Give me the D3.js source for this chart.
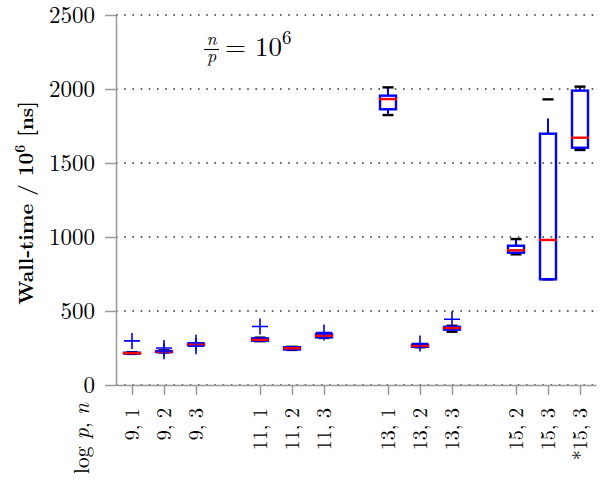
<!DOCTYPE html>
<html><head><meta charset="utf-8">
<script src="https://cdn.jsdelivr.net/npm/d3@7"></script>
<style>body{margin:0;background:#fff} svg{display:block} text{font-family:"Latin Modern Roman","Liberation Serif",serif}</style>
</head><body><svg id="c" width="603" height="486"></svg>
<script>
const categories = ["9, 1","9, 2","9, 3","11, 1","11, 2","11, 3","13, 1","13, 2","13, 3","15, 2","15, 3","*15, 3"];
const positions = [1,2,3,5,6,7,9,10,11,13,14,15];
const lowerWhisker = [210, 220, 266, 296, 237, 318, 1824, 255, 360, 883, 714, 1588];
const q1 =           [213, 222, 270, 299, 240, 322, 1863, 258, 374, 894, 714, 1603];
const median =       [215, 226, 275, 305, 248, 332, 1932, 264, 385, 910, 980, 1671];
const q3 =           [218, 230, 280, 315, 255, 345, 1955, 272, 393, 941, 1698, 1989];
const upperWhisker = [221, 234, 283, 320, 258, 350, 2011, 276, 400, 986, 1930, 2016];
const whiskerLineEnd=[null,null,null,null,null,null,null,null,null,null,1800,null];
const outliers = [[298],[250,228],[285,262],[395],[],[354],[],[280],[444],[],[],[]];
const yTicks = [0,500,1000,1500,2000,2500];

const FONT = "Latin Modern Roman, Liberation Serif, serif";
const svg = d3.select("#c");
const x = d3.scaleLinear().domain([0.5,15.5]).range([116,596]);
const y = d3.scaleLinear().domain([0,2500]).range([385,15]);

// grid
svg.append("g").selectAll("line").data(yTicks).join("line")
  .attr("x1",116).attr("x2",596).attr("y1",d=>y(d)).attr("y2",d=>y(d))
  .attr("stroke","#333").attr("stroke-width",1.4).attr("stroke-dasharray","1.6,6.6");

// axes
const gy = svg.append("g").attr("transform","translate(116,0)")
  .call(d3.axisLeft(y).tickValues(yTicks).tickSize(11).tickSizeOuter(0).tickPadding(10).tickFormat(d3.format("d")));
const gx = svg.append("g").attr("transform","translate(0,385)")
  .call(d3.axisBottom(x).tickValues(positions).tickSize(10).tickSizeOuter(0).tickFormat(""));
[gx,gy].forEach(g=>{
  g.attr("font-family",null);
  g.select(".domain").attr("stroke","#999").attr("stroke-width",1.5);
  g.selectAll(".tick line").attr("stroke","#999").attr("stroke-width",1.5);
});
gy.selectAll(".tick text").style("font-family",FONT).style("font-size","23px").attr("fill","#000");

// x labels
svg.append("g").selectAll("text").data(categories).join("text")
  .attr("transform",(d,i)=>`translate(${x(positions[i])},408) rotate(-90)`)
  .attr("text-anchor","end").attr("dy","0.33em")
  .style("font-family",FONT).style("font-size","20px").text(d=>d);

// x axis title
const xt = svg.append("text").attr("transform","translate(89,403) rotate(-90)")
  .attr("text-anchor","end").style("font-family",FONT).style("font-size","21.5px");
xt.append("tspan").text("log ");
xt.append("tspan").style("font-style","italic").text("p");
xt.append("tspan").text(", ");
xt.append("tspan").style("font-style","italic").text("n");

// y axis title
const yt = svg.append("text").attr("transform","translate(33,203) rotate(-90)")
  .attr("text-anchor","middle").style("font-family",FONT).style("font-size","20.5px").style("font-weight","bold");
yt.append("tspan").text("Wall-time / 10");
yt.append("tspan").attr("dy",-8).style("font-size","14px").text("6");
yt.append("tspan").attr("dy",8).text(" [ns]");

// formula
const fg = svg.append("g");
fg.append("text").attr("x",211.5).attr("y",44.5).attr("text-anchor","middle").style("font-family",FONT).style("font-style","italic").style("font-size","18px").text("n");
fg.append("line").attr("x1",204).attr("x2",219).attr("y1",49.5).attr("y2",49.5).attr("stroke","#000").attr("stroke-width",1.1);
fg.append("text").attr("x",211.5).attr("y",61.5).attr("text-anchor","middle").style("font-family",FONT).style("font-style","italic").style("font-size","18px").text("p");
const ft = fg.append("text").attr("x",225).attr("y",56).style("font-family",FONT).style("font-size","27px");
ft.append("tspan").text("= 10");
ft.append("tspan").attr("dy",-12).style("font-size","19px").text("6");

// boxes
const bw = 0.5*32, cw = 11;
const boxes = svg.append("g");
positions.forEach((p,i)=>{
  const cx = x(p);
  const topLine = whiskerLineEnd[i]!==null ? whiskerLineEnd[i] : upperWhisker[i];
  boxes.append("line").attr("x1",cx).attr("x2",cx).attr("y1",y(q3[i])).attr("y2",y(topLine))
    .attr("stroke","#0000ff").attr("stroke-width",2);
  boxes.append("line").attr("x1",cx).attr("x2",cx).attr("y1",y(q1[i])).attr("y2",y(lowerWhisker[i]))
    .attr("stroke","#0000ff").attr("stroke-width",2);
  [lowerWhisker[i],upperWhisker[i]].forEach(v=>{
    boxes.append("line").attr("x1",cx-cw/2).attr("x2",cx+cw/2).attr("y1",y(v)).attr("y2",y(v))
      .attr("stroke","#000").attr("stroke-width",2.4);
  });
  boxes.append("rect").attr("x",cx-bw/2).attr("width",bw)
    .attr("y",y(q3[i])).attr("height",Math.max(0.1,y(q1[i])-y(q3[i])))
    .attr("fill","none").attr("stroke","#0000ff").attr("stroke-width",2.4);
  boxes.append("line").attr("x1",cx-bw/2-1).attr("x2",cx+bw/2+1).attr("y1",y(median[i])).attr("y2",y(median[i]))
    .attr("stroke","#ff0000").attr("stroke-width",2.4);
  outliers[i].forEach(v=>{
    const oy = y(v), s = 8;
    boxes.append("path").attr("d",`M${cx-s},${oy}H${cx+s}M${cx},${oy-s}V${oy+s}`)
      .attr("stroke","#0000ff").attr("stroke-width",1.6).attr("fill","none");
  });
});
</script></body></html>
